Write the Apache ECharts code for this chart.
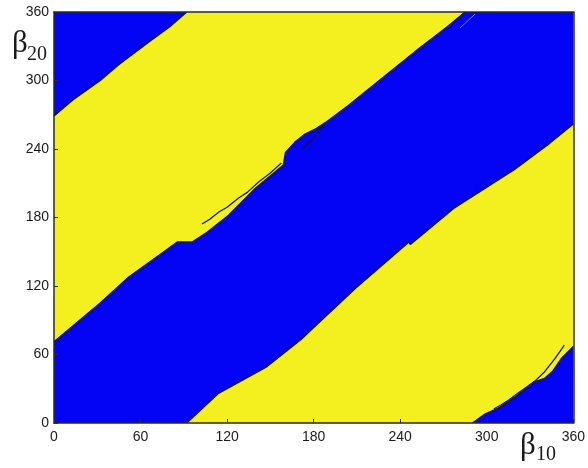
<!DOCTYPE html>
<html>
<head>
<meta charset="utf-8">
<script src="https://cdn.jsdelivr.net/npm/echarts@6/dist/echarts.min.js"></script>
<style>
  html, body { margin: 0; padding: 0; background: #ffffff; }
  #chart { width: 588px; height: 468px; }
</style>
</head>
<body>
<div id="chart"></div>
<script>
// ---- data (β10 on x, β20 on y, degrees) ----
const axisMin = 0;
const axisMax = 360;
const tickStep = 60;
const xName = ['β', '10'];
const yName = ['β', '20'];

// full domain (background region, blue)
const domain = [[0, 0], [360, 0], [360, 360], [0, 360]];

// top-left boundary (left edge -> top edge)
const boundaryTL = [[0, 269], [13, 283], [32, 300], [45, 314], [66, 334], [80, 347], [92, 360]];
// upper boundary of central blue band (left edge -> top edge)
const boundaryCU = [[0, 71], [32, 105], [52, 128], [73, 147], [85.4, 158.5], [95.7, 158.5], [105, 166],
  [121, 182], [140, 206], [159, 226], [160.5, 237], [167, 246], [174, 253], [182, 258], [188, 263],
  [204, 278], [226.5, 301], [250, 325], [272.6, 347], [285, 360]];
// lower boundary of central blue band (bottom edge -> right edge)
const boundaryCL = [[92, 0], [114, 26], [147, 49], [171, 73], [209, 118], [246, 158.5], [247, 156.5],
  [277, 188], [319, 222], [343.5, 245], [360, 262]];
// lower-right boundary (bottom edge -> right edge)
const boundaryLR = [[290, 0], [299, 8], [308, 13], [321, 24], [333, 36], [340, 39], [345.5, 45], [352, 57], [360, 67]];

// noisy strips along the boundaries
const stripA = [[102.6, 174.3], [108, 178.5], [114.3, 184.8], [120, 189], [128, 197.1], [134, 202], [141.8, 211.1], [150, 219], [157.6, 227.7]];
const stripB = [[172.5, 240], [176, 245], [179.7, 249], [184, 256], [188, 261.5]];
const stripC = [[304.9, 12.3], [310, 16], [315.2, 20.1], [321, 25.5], [327.6, 31.5], [334, 37.5], [340, 44.7], [347, 56], [353.8, 68.3]];
const faintLine = [[281.5, 346], [291.9, 358.2]];

const blue = '#0303f6';
const yellow = '#f4ef1f';
const edge = '#15153a';

const yellowA = boundaryTL.concat(boundaryCU.slice().reverse());
const yellowB = boundaryCL.concat(boundaryLR.slice().reverse());

function polygonSeries(points, color, z) {
  return {
    type: 'custom',
    z: z,
    silent: true,
    data: [0],
    renderItem: function (params, api) {
      return {
        type: 'polygon',
        shape: { points: points.map(p => api.coord(p)) },
        style: { fill: color, stroke: null }
      };
    }
  };
}

function lineSeries(points, color, width, z) {
  return {
    type: 'line',
    z: z,
    silent: true,
    data: points,
    showSymbol: false,
    symbol: 'none',
    clip: true,
    lineStyle: { color: color, width: width },
    animation: false
  };
}

const chart = echarts.init(document.getElementById('chart'), null, { renderer: 'canvas' });

const labelStyle = { fontFamily: 'Liberation Sans, Arial, sans-serif', fontSize: 14, color: '#1a1a1a' };

chart.setOption({
  animation: false,
  backgroundColor: '#ffffff',
  grid: { left: 54, right: 11, top: 12, bottom: 45 },
  xAxis: [{
    type: 'value', min: axisMin, max: axisMax, interval: tickStep, z: 10,
    axisLine: { show: true, onZero: false, lineStyle: { color: '#2a2a2a', width: 1.5 } },
    axisTick: { show: true, inside: true, length: 4, lineStyle: { color: '#2a2a2a', width: 1 } },
    axisLabel: Object.assign({ margin: 7 }, labelStyle),
    splitLine: { show: false }
  }, {
    type: 'value', position: 'top', min: axisMin, max: axisMax, interval: tickStep, z: 10,
    axisLine: { show: true, onZero: false, lineStyle: { color: '#2a2a2a', width: 1.5 } },
    axisTick: { show: false }, axisLabel: { show: false }, splitLine: { show: false }
  }],
  yAxis: [{
    type: 'value', min: axisMin, max: axisMax, interval: tickStep, z: 10,
    axisLine: { show: true, onZero: false, lineStyle: { color: '#2a2a2a', width: 1.5 } },
    axisTick: { show: true, inside: true, length: 4, lineStyle: { color: '#2a2a2a', width: 1 } },
    axisLabel: Object.assign({ margin: 5 }, labelStyle),
    splitLine: { show: false }
  }, {
    type: 'value', position: 'right', min: axisMin, max: axisMax, interval: tickStep, z: 10,
    axisLine: { show: true, onZero: false, lineStyle: { color: '#2a2a2a', width: 1.5 } },
    axisTick: { show: false }, axisLabel: { show: false }, splitLine: { show: false }
  }],
  series: [
    polygonSeries(domain, blue, 1),
    polygonSeries(yellowA, yellow, 2),
    polygonSeries(yellowB, yellow, 2),
    lineSeries(boundaryTL, edge, 1.5, 3),
    lineSeries(boundaryCU, edge, 1.5, 3),
    lineSeries(boundaryCL, edge, 1.5, 3),
    lineSeries(boundaryLR, edge, 1.5, 3),
    lineSeries(stripA, edge, 1.3, 3),
    lineSeries(stripB, edge, 1.3, 3),
    lineSeries(stripC, edge, 1.3, 3),
    lineSeries(faintLine, '#7a7aff', 1, 3)
  ],
  graphic: [
    { type: 'text', x: 12, y: 44, style: { text: yName[0], font: '31px "Liberation Serif", serif', fill: '#1a1a1a', textAlign: 'left', textVerticalAlign: 'middle' } },
    { type: 'text', x: 27, y: 55, style: { text: yName[1], font: '20px "Liberation Serif", serif', fill: '#1a1a1a', textAlign: 'left', textVerticalAlign: 'middle' } },
    { type: 'text', x: 520, y: 446, style: { text: xName[0], font: '31px "Liberation Serif", serif', fill: '#1a1a1a', textAlign: 'left', textVerticalAlign: 'middle' } },
    { type: 'text', x: 536, y: 455, style: { text: xName[1], font: '20px "Liberation Serif", serif', fill: '#1a1a1a', textAlign: 'left', textVerticalAlign: 'middle' } }
  ]
});
</script>
</body>
</html>
